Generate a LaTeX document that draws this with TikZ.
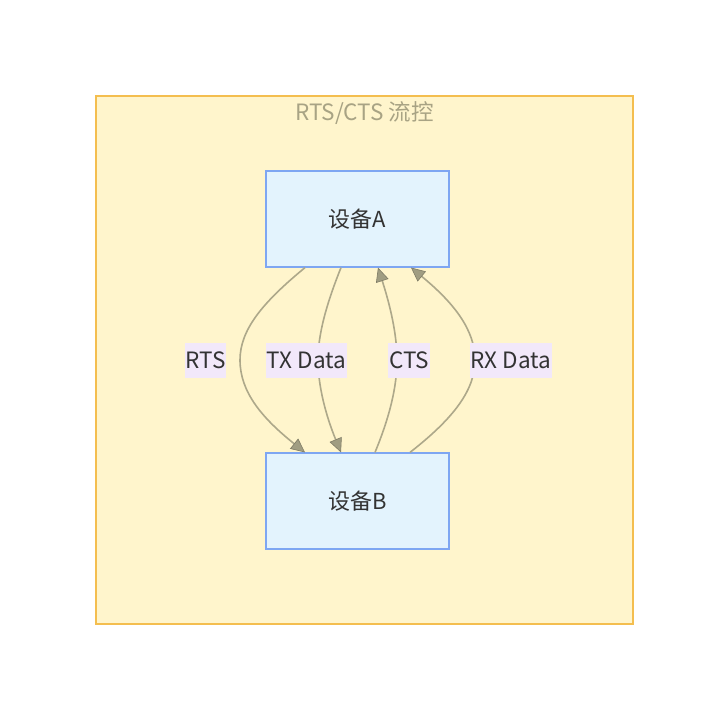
\documentclass[tikz,border=0pt]{standalone}
\usepackage{fontspec}
\setmainfont{Noto Sans CJK SC}
\usetikzlibrary{arrows.meta}
\definecolor{clfill}{HTML}{FFF5CC}
\definecolor{cldraw}{HTML}{F4BE4F}
\definecolor{ndfill}{HTML}{E3F3FD}
\definecolor{nddraw}{HTML}{7EA6F2}
\definecolor{txt}{HTML}{333333}
\definecolor{ttl}{HTML}{A8A384}
\definecolor{edg}{HTML}{ADA88A}
\definecolor{tipf}{HTML}{A09D82}
\definecolor{tipd}{HTML}{7F7C66}
\definecolor{lblbg}{HTML}{F2E8FA}
\tikzset{
  devbox/.style={draw=nddraw, fill=ndfill, line width=1.2pt, minimum width=183pt, minimum height=96pt, inner sep=0pt, font=\fontsize{22}{26}\selectfont, text=txt},
  lbl/.style={fill=lblbg, inner xsep=1pt, inner ysep=0pt, minimum height=35pt, font=\fontsize{22.5}{26}\selectfont, text=txt},
  flow/.style={draw=edg, line width=1.6pt, -{Triangle[length=14pt,width=13pt,fill=tipf,color=tipd,line width=0.6pt]}},
}
\begin{document}
\begin{tikzpicture}[x=1pt,y=-1pt]
\useasboundingbox (0,0) rectangle (728,719);
\node[draw=cldraw, fill=clfill, line width=1.3pt, minimum width=537pt, minimum height=528pt, inner sep=0pt] (cluster) at (364.5,360) {};
\node[text=ttl, font=\fontsize{22.5}{26}\selectfont] (title) at (364.5,113) {RTS/CTS 流控};
\node[devbox] (A) at (357.5,219) {设备A};
\node[devbox] (B) at (357.5,501) {设备B};
\draw[flow] ([xshift=-52.5pt]A.south) .. controls (262,303) and (240,330) .. (240,360) .. controls (240,392) and (262,418) .. ([xshift=-52.5pt]B.north);
\draw[flow] ([xshift=-16.5pt]A.south) .. controls (326,305) and (318,335) .. (318,360) .. controls (318,386) and (326,416) .. ([xshift=-16.5pt]B.north);
\draw[flow] ([xshift=17.5pt]B.north) .. controls (390,416) and (397,386) .. (397,360) .. controls (397,334) and (390,305) .. ([xshift=20.5pt]A.south);
\draw[flow] ([xshift=52.5pt]B.north) .. controls (454,418) and (475,390) .. (475,360) .. controls (475,330) and (454,303) .. ([xshift=53.5pt]A.south);
\node[lbl] (l1) at (205.5,360) {RTS};
\node[lbl] (l2) at (306.5,360) {TX Data};
\node[lbl] (l3) at (409,360) {CTS};
\node[lbl] (l4) at (511,360) {RX Data};
\end{tikzpicture}
\end{document}
